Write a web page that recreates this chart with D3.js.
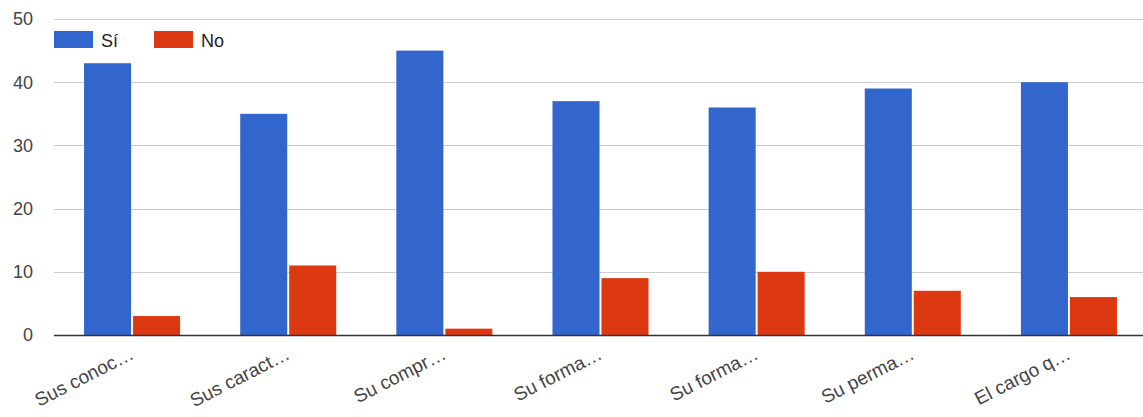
<!DOCTYPE html>
<html><head><meta charset="utf-8">
<script src="https://cdn.jsdelivr.net/npm/d3@7"></script>
<style>html,body{margin:0;padding:0;background:#fff;}svg{display:block;font-family:Arial,'Liberation Sans',sans-serif;}</style>
</head><body>
<svg id="c" width="1143" height="417"></svg>
<script>
const categories = ["Sus conoc…","Sus caract…","Su compr…","Su forma…","Su forma…","Su perma…","El cargo q…"];
const seriesNames = ["Sí","No"];
const siValues = [43,35,45,37,36,39,40];
const noValues = [3,11,1,9,10,7,6];
const yTicks = [0,10,20,30,40,50];
const colors = ["#3366cc","#dc3912"];

const svg = d3.select("#c");
const plotLeft = 54, plotRight = 1147, plotTop = 19, plotBottom = 335;
const idx = d3.range(categories.length);
const x0 = d3.scaleBand().domain(idx).range([plotLeft, plotRight]).paddingInner(0).paddingOuter(0);
const groupW = x0.bandwidth() * 0.615;
const x1 = d3.scaleBand().domain(seriesNames).range([0, groupW]).paddingInner(0.04);
const y = d3.scaleLinear().domain([0,50]).range([plotBottom, plotTop]);

// gridlines
svg.append("g").selectAll("line").data(yTicks.filter(t=>t>0)).join("line")
  .attr("x1", plotLeft).attr("x2", 1143)
  .attr("y1", d=>Math.round(y(d))+0.5).attr("y2", d=>Math.round(y(d))+0.5)
  .attr("stroke","#cccccc").attr("stroke-width",1);

// y tick labels
svg.append("g").selectAll("text").data(yTicks).join("text")
  .attr("x", 33).attr("y", d=>y(d)).attr("dy","0.35em")
  .attr("text-anchor","end").attr("fill","#444").attr("font-size",18)
  .text(d=>d);

// bars
const data = idx.map(i=>({i, vals:[siValues[i], noValues[i]]}));
const groups = svg.append("g").selectAll("g").data(data).join("g")
  .attr("transform", d=>`translate(${x0(d.i) + (x0.bandwidth()-groupW)/2},0)`);
groups.selectAll("rect").data(d=>d.vals.map((v,k)=>({v,k}))).join("rect")
  .attr("x", d=>x1(seriesNames[d.k]))
  .attr("width", x1.bandwidth())
  .attr("y", d=>y(d.v))
  .attr("height", d=>y(0)-y(d.v))
  .attr("fill", d=>colors[d.k]);

// baseline
svg.append("line").attr("x1", plotLeft).attr("x2", 1143)
  .attr("y1", y(0)+0.5).attr("y2", y(0)+0.5)
  .attr("stroke","#333").attr("stroke-width",1.5);

// x labels
svg.append("g").selectAll("text").data(idx).join("text")
  .attr("transform", i=>`translate(${x0(i)+x0.bandwidth()/2+3},358) rotate(-27)`)
  .attr("text-anchor","end").attr("fill","#444").attr("font-size",19)
  .text(i=>categories[i]);

// legend
const legendX = [54, 154];
const lg = svg.append("g").selectAll("g").data(seriesNames).join("g")
  .attr("transform",(d,k)=>`translate(${legendX[k]},31)`);
lg.append("rect").attr("width",39).attr("height",17).attr("fill",(d,k)=>colors[k]);
lg.append("text").attr("x",47).attr("y",15.5).attr("fill","#222").attr("font-size",18).text(d=>d);
</script>
</body></html>
